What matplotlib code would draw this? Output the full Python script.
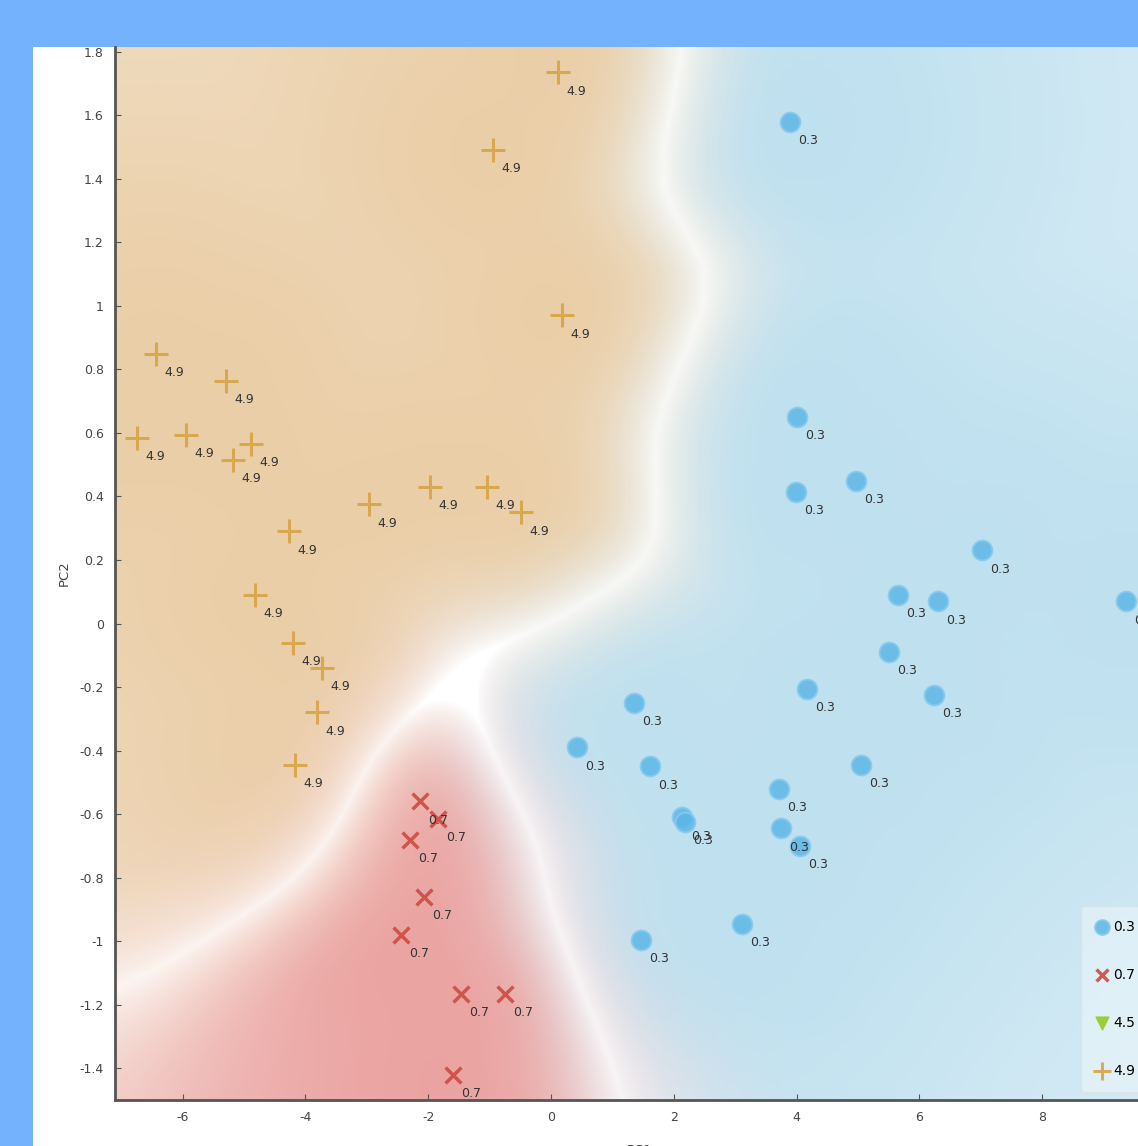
import numpy as np
import matplotlib.pyplot as plt
from matplotlib.patches import Rectangle

plt.rcParams['axes.unicode_minus'] = False

# PCA scores per class
pc1_03 = [3.89, 4.01, 3.99, 4.97, 7.02, 5.65, 6.30, 9.36, 5.50, 4.17, 6.24, 1.35,
          0.42, 1.61, 5.05, 2.14, 2.18, 3.71, 3.75, 4.05, 3.11, 1.47]
pc2_03 = [1.58, 0.65, 0.415, 0.45, 0.23, 0.09, 0.07, 0.07, -0.09, -0.205, -0.225, -0.25,
          -0.39, -0.45, -0.445, -0.61, -0.625, -0.52, -0.645, -0.70, -0.945, -0.995]

pc1_07 = [-2.13, -1.84, -2.30, -2.07, -2.44, -1.47, -0.75, -1.60]
pc2_07 = [-0.56, -0.615, -0.68, -0.86, -0.98, -1.165, -1.165, -1.42]

pc1_49 = [0.11, -0.94, 0.18, -6.43, -5.29, -6.74, -5.94, -4.89, -5.18, -2.96,
          -1.97, -1.04, -0.49, -4.27, -4.82, -4.20, -3.73, -3.81, -4.17]
pc2_49 = [1.735, 1.49, 0.97, 0.85, 0.765, 0.585, 0.595, 0.565, 0.515, 0.375,
          0.43, 0.43, 0.35, 0.29, 0.09, -0.06, -0.14, -0.28, -0.445]

labels = ['0.3', '0.7', '4.5', '4.9']

xmin, xmax, ymin, ymax = -7.1, 10.0, -1.5, 1.815


def blur(a, sig):
    r = int(3 * sig)
    k = np.exp(-0.5 * (np.arange(-r, r + 1) / sig) ** 2)
    k /= k.sum()
    a = np.pad(a, r, mode='edge')
    a = np.apply_along_axis(lambda v: np.convolve(v, k, 'valid'), 0, a)
    a = np.apply_along_axis(lambda v: np.convolve(v, k, 'valid'), 1, a)
    return a


fig = plt.figure(figsize=(11.38, 11.46), dpi=100, facecolor='#74b2fd')
panel = Rectangle((33 / 1138, 0), 1, 1 - 47 / 1146, transform=fig.transFigure,
                  facecolor='white', edgecolor='none', zorder=-10)
fig.add_artist(panel)
ax = fig.add_axes([115 / 1138, 46 / 1146, 1050 / 1138, 1053 / 1146])
ax.set_zorder(1)

# soft decision surface: nearest-neighbour class weights, smoothed
gx = np.linspace(xmin, xmax, 500)
gy = np.linspace(ymin, ymax, 500)
X, Y = np.meshgrid(gx, gy)
sx, sy = 61.4, 318.0
groups = [(pc1_03, pc2_03, (0.75, 0.88, 0.94)),
          (pc1_07, pc2_07, (0.92, 0.64, 0.63)),
          (pc1_49, pc2_49, (0.92, 0.81, 0.66))]
dist = []
for px, py, _ in groups:
    d = np.min(np.hypot((X[..., None] - np.array(px)) * sx,
                        (Y[..., None] - np.array(py)) * sy), axis=-1)
    dist.append(d)
dist = np.array(dist)
dmin = dist.min(axis=0)
w = np.exp(-(dist - dmin) / 30.0)
p = w / w.sum(axis=0)
p = np.array([blur(pk, 16) for pk in p])
cols = np.array([g[2] for g in groups])
rgb = np.einsum('kij,kc->ijc', p, cols) / p.sum(axis=0)[..., None]
conf = np.clip((p.max(axis=0) - 0.45) / 0.55, 0, 1) ** 0.7
conf *= 0.65 + 0.35 * np.exp(-(blur(dmin, 10) / 300.0) ** 2)
img = 1 - conf[..., None] * (1 - rgb)
ax.imshow(img, extent=(xmin, xmax, ymin, ymax), origin='lower', aspect='auto',
          interpolation='bilinear', zorder=0)

ax.scatter(pc1_03, pc2_03, s=200, marker='o', facecolor='#5cb6e6', edgecolor='#86c9ee',
           linewidth=1.5, alpha=0.85, zorder=3, label=labels[0])
ax.scatter(pc1_07, pc2_07, s=130, marker='x', color='#cc4b42', linewidth=2.5,
           alpha=0.9, zorder=3, label=labels[1])
ax.scatter([], [], s=150, marker='v', color='#9ccc3c', label=labels[2])
ax.scatter(pc1_49, pc2_49, s=300, marker='+', color='#d8a444', linewidth=2.2,
           alpha=0.9, zorder=3, label=labels[3])

for px, py, lab in [(pc1_03, pc2_03, labels[0]), (pc1_07, pc2_07, labels[1]),
                    (pc1_49, pc2_49, labels[3])]:
    for a, b in zip(px, py):
        ax.annotate(lab, (a, b), xytext=(6, -13.5), textcoords='offset points',
                    ha='left', va='center', fontsize=9, color='#333333', zorder=4)

ax.set_xlim(xmin, xmax)
ax.set_ylim(ymin, ymax)
ax.set_xticks([-6, -4, -2, 0, 2, 4, 6, 8, 10])
ax.set_yticks([-1.4, -1.2, -1, -0.8, -0.6, -0.4, -0.2, 0, 0.2, 0.4, 0.6, 0.8, 1, 1.2, 1.4, 1.6, 1.8])
ax.yaxis.set_major_formatter(plt.FuncFormatter(lambda v, _: '%g' % round(v, 2)))
ax.tick_params(direction='in', length=4, labelsize=9, labelcolor='#444444', pad=8, color='#555555')
for s in ['left', 'bottom']:
    ax.spines[s].set_linewidth(2)
    ax.spines[s].set_color('#555555')
for s in ['top', 'right']:
    ax.spines[s].set_visible(False)
ax.set_ylabel('PC2', fontsize=9.5, color='#444444', labelpad=6)
ax.set_xlabel('PC1', fontsize=9.5, color='#444444', labelpad=14)

ax.legend(loc='lower right', bbox_to_anchor=(0.985, 8 / 1053), fontsize=10,
          labelspacing=2.45, handletextpad=0.3, borderpad=1.0, borderaxespad=0,
          framealpha=0.35, edgecolor='#dddddd', markerscale=0.75, handlelength=1.0)

fig.savefig('out.png', dpi=100)
